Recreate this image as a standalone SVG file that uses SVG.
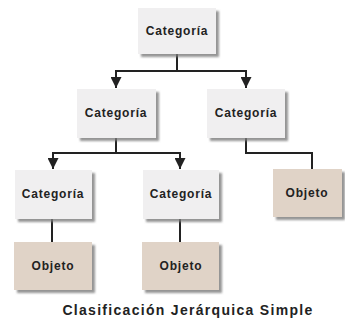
<svg xmlns="http://www.w3.org/2000/svg" width="345" height="322" viewBox="0 0 345 322">
<style>
.cat{fill:#f0eff0;filter:url(#sh)}
.obj{fill:#e0d3c7;filter:url(#sh)}
.lbl{font-family:"Liberation Sans",Arial,sans-serif;font-weight:bold;font-size:12px;letter-spacing:0.8px;fill:#222;text-anchor:middle}
.cap{font-family:"Liberation Sans",Arial,sans-serif;font-weight:bold;font-size:14px;letter-spacing:1.3px;fill:#222;text-anchor:middle}
.ln{fill:none;stroke:#222;stroke-width:2}
</style>
<defs>
<filter id="sh" x="-20%" y="-20%" width="150%" height="150%">
<feDropShadow dx="3" dy="3" stdDeviation="1.3" flood-color="#7a7a7a" flood-opacity="0.8"/>
</filter>
<marker id="ad" markerUnits="userSpaceOnUse" markerWidth="11" markerHeight="11" refX="5.5" refY="11" orient="0" viewBox="0 0 11 11">
<path d="M0,0 L11,0 L5.5,11 Z" fill="#222"/>
</marker>
</defs>
<g id="connectors">
<path class="ln" d="M177,54 V71"/>
<path class="ln" d="M115,71 H247"/>
<path class="ln" d="M116,71 V88" marker-end="url(#ad)"/>
<path class="ln" d="M246,71 V88" marker-end="url(#ad)"/>
<path class="ln" d="M116,138 V153"/>
<path class="ln" d="M52,153 H181"/>
<path class="ln" d="M53,153 V169" marker-end="url(#ad)"/>
<path class="ln" d="M180,153 V169" marker-end="url(#ad)"/>
<path class="ln" d="M246,138 V153 H312 V169"/>
<path class="ln" d="M52,219 V242"/>
<path class="ln" d="M180,219 V242"/>
</g>
<g id="n1"><rect class="cat" x="138" y="8" width="78" height="46"/><text class="lbl" x="177" y="35">Categoría</text></g>
<g id="n2"><rect class="cat" x="77" y="89" width="79" height="49"/><text class="lbl" x="116" y="117">Categoría</text></g>
<g id="n3"><rect class="cat" x="207" y="89" width="78" height="49"/><text class="lbl" x="246" y="117">Categoría</text></g>
<g id="n4"><rect class="cat" x="15" y="170" width="77" height="49"/><text class="lbl" x="53" y="198">Categoría</text></g>
<g id="n5"><rect class="cat" x="143" y="170" width="76" height="49"/><text class="lbl" x="181" y="198">Categoría</text></g>
<g id="n6"><rect class="obj" x="273" y="169" width="69" height="48"/><text class="lbl" x="307" y="197">Objeto</text></g>
<g id="n7"><rect class="obj" x="14" y="242" width="78" height="48"/><text class="lbl" x="53" y="270">Objeto</text></g>
<g id="n8"><rect class="obj" x="142" y="242" width="77" height="48"/><text class="lbl" x="181" y="270">Objeto</text></g>
<text class="cap" x="188" y="315">Clasificación Jerárquica Simple</text>
</svg>
